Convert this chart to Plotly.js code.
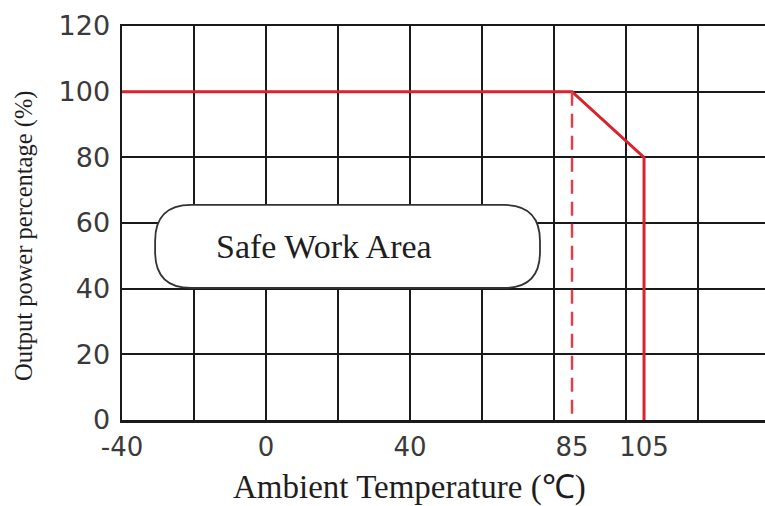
<!DOCTYPE html>
<html>
<head>
<meta charset="utf-8">
<script src="https://cdn.plot.ly/plotly-3.0.1.min.js"></script>
<style>html,body{margin:0;padding:0;background:#fff;}#chart{width:765px;height:506px;}</style>
</head>
<body>
<div id="chart"></div>
<script>
// ---- data ----
const xGridVals = [-40, -20, 0, 20, 40, 60, 80, 100, 120];
const xTickVals = [-40, 0, 40, 85, 105];
const xTickText = ['-40', '0', '40', '85', '105'];
const yTickVals = [0, 20, 40, 60, 80, 100, 120];
const yTickText = ['0', '20', '40', '60', '80', '100', '120'];
const deratingTemp = [-40, 85, 105, 105];
const deratingPower = [100, 100, 80, 0];
const ratedTemp = [85, 85];
const ratedPower = [100, 0];
const areaLabel = 'Safe Work Area';
const xTitle = 'Ambient Temperature (℃)';
const yTitle = 'Output power percentage (%)';

// ---- label box (annotation geometry) ----
const box = {x0: -30.8, x1: 76.1, y0: 40.2, y1: 65.5, rx: 10, ry: 11};
function roundedPath(b) {
  const {x0, x1, y0, y1, rx, ry} = b;
  return `M ${x0 + rx},${y1} L ${x1 - rx},${y1} Q ${x1},${y1} ${x1},${y1 - ry} ` +
         `L ${x1},${y0 + ry} Q ${x1},${y0} ${x1 - rx},${y0} ` +
         `L ${x0 + rx},${y0} Q ${x0},${y0} ${x0},${y0 + ry} ` +
         `L ${x0},${y1 - ry} Q ${x0},${y1} ${x0 + rx},${y1} Z`;
}

const red = '#d8232f';
const traces = [
  {x: deratingTemp, y: deratingPower, type: 'scatter', mode: 'lines',
   line: {color: red, width: 3}, hoverinfo: 'skip', showlegend: false},
  {x: ratedTemp, y: ratedPower, type: 'scatter', mode: 'lines',
   line: {color: '#e0404c', width: 2.5, dash: '14px,8px'}, hoverinfo: 'skip', showlegend: false},
  {x: [], y: [], type: 'scatter', xaxis: 'x2', yaxis: 'y', hoverinfo: 'skip', showlegend: false}
];

const serif = 'Liberation Serif';
const layout = {
  width: 765, height: 506,
  margin: {l: 122, r: 0, t: 26, b: 86},
  paper_bgcolor: '#ffffff', plot_bgcolor: '#ffffff',
  showlegend: false,
  xaxis: {
    range: [-40, 138.6], tickmode: 'array', tickvals: xGridVals, showticklabels: false,
    showgrid: true, gridcolor: '#1a1a1a', gridwidth: 2, zeroline: false,
    showline: true, linecolor: '#1a1a1a', linewidth: 2.5, mirror: true, ticks: ''
  },
  xaxis2: {
    overlaying: 'x', anchor: 'y', side: 'bottom', matches: 'x', range: [-40, 138.6],
    tickmode: 'array', tickvals: xTickVals, ticktext: xTickText,
    showgrid: false, zeroline: false, showline: false,
    ticks: 'outside', ticklen: 4, tickcolor: 'rgba(0,0,0,0)',
    tickfont: {family: 'DejaVu Sans', size: 26, color: '#3a3a3a'}
  },
  yaxis: {
    range: [0, 120], tickmode: 'array', tickvals: yTickVals, ticktext: yTickText,
    showgrid: true, gridcolor: '#1a1a1a', gridwidth: 2, zeroline: false,
    showline: true, linecolor: '#1a1a1a', linewidth: 2.5, mirror: false,
    ticks: 'outside', ticklen: 4, tickcolor: 'rgba(0,0,0,0)',
    tickfont: {family: 'DejaVu Sans', size: 27, color: '#3a3a3a'}
  },
  shapes: [{
    type: 'path', xref: 'x', yref: 'y', path: roundedPath(box),
    fillcolor: '#ffffff', line: {color: '#333333', width: 1.8}, layer: 'above'
  }],
  annotations: [
    {x: 16.1, y: 52.7, xref: 'x', yref: 'y', text: areaLabel, showarrow: false,
     font: {family: serif, size: 34, color: '#1e1e1e'}},
    {x: 409, y: 487, xref: 'paper', yref: 'paper', text: xTitle, showarrow: false,
     xanchor: 'center', yanchor: 'middle',
     font: {family: serif, size: 33, color: '#1e1e1e'}},
    {x: 24, y: 236, xref: 'paper', yref: 'paper', text: yTitle, showarrow: false, textangle: -90,
     xanchor: 'center', yanchor: 'middle',
     font: {family: serif, size: 24.5, color: '#1e1e1e'}}
  ]
};
// convert the two title positions (given in page pixels) to paper fractions
const pw = layout.width - layout.margin.l - layout.margin.r;
const ph = layout.height - layout.margin.t - layout.margin.b;
[1, 2].forEach(i => {
  const a = layout.annotations[i];
  a.x = (a.x - layout.margin.l) / pw;
  a.y = (layout.height - layout.margin.b - a.y) / ph;
});

Plotly.newPlot('chart', traces, layout, {displayModeBar: false, staticPlot: true});
</script>
</body>
</html>
